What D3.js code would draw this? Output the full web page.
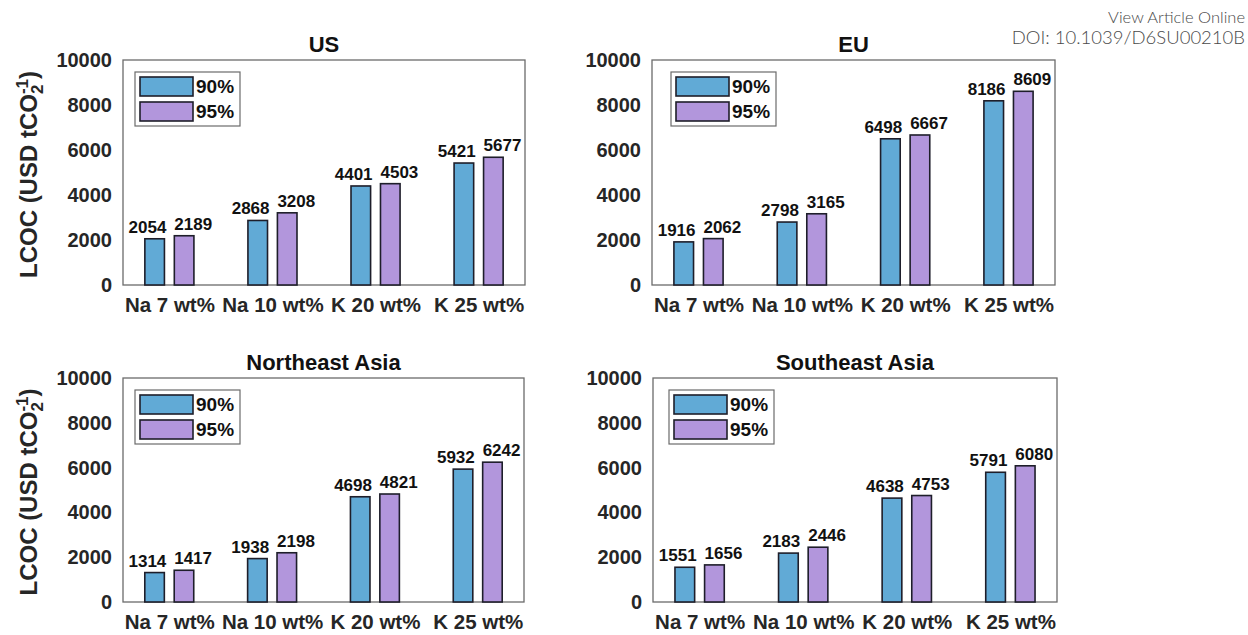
<!DOCTYPE html>
<html>
<head>
<meta charset="utf-8">
<script src="https://cdn.jsdelivr.net/npm/d3@7"></script>
<style>
  html, body { margin: 0; padding: 0; background: #fff; }
  svg { display: block; }
  text { font-family: "Liberation Sans", Arial, sans-serif; }
</style>
</head>
<body>
<svg id="chart" width="1248" height="635"></svg>
<script>
// LCOC by sorbent loading and capture rate, four regions
const categories = ["Na 7 wt%", "Na 10 wt%", "K 20 wt%", "K 25 wt%"];
const seriesNames = ["90%", "95%"];
const regionNames = ["US", "EU", "Northeast Asia", "Southeast Asia"];

const us90  = [2054, 2868, 4401, 5421];
const us95  = [2189, 3208, 4503, 5677];
const eu90  = [1916, 2798, 6498, 8186];
const eu95  = [2062, 3165, 6667, 8609];
const nea90 = [1314, 1938, 4698, 5932];
const nea95 = [1417, 2198, 4821, 6242];
const sea90 = [1551, 2183, 4638, 5791];
const sea95 = [1656, 2446, 4753, 6080];

const yTicks = [0, 2000, 4000, 6000, 8000, 10000];
const yMax = 10000;

const regionValues = [[us90, us95], [eu90, eu95], [nea90, nea95], [sea90, sea95]];

// panel frames (plot area) and legend offsets
const frames = [
  { x: 123, y: 60,  w: 402, h: 225, lx: 12 },
  { x: 652, y: 60,  w: 403, h: 225, lx: 19 },
  { x: 123, y: 378, w: 401, h: 224, lx: 12 },
  { x: 653, y: 378, w: 404, h: 224, lx: 16 }
];

const colors = ["#61aad6", "#b296dc"];
const barStroke = "#1e1e2a";
const frameStroke = "#6b6b6b";
const offsets = [-0.143, 0.143];
const barW = 0.19;

const svg = d3.select("#chart");

// header note
svg.append("text")
  .attr("x", 1245).attr("y", 23)
  .attr("text-anchor", "end")
  .style("font-family", "Lato, 'Open Sans', sans-serif")
  .style("font-weight", 300)
  .style("font-size", "16.5px")
  .attr("fill", "#4a4a4a")
  .text("View Article Online");
svg.append("text")
  .attr("x", 1245).attr("y", 44)
  .attr("text-anchor", "end")
  .style("font-family", "Lato, 'Open Sans', sans-serif")
  .style("font-weight", 300)
  .style("font-size", "18.5px")
  .attr("fill", "#4a4a4a")
  .text("DOI: 10.1039/D6SU00210B");

regionNames.forEach((name, i) => {
  const f = frames[i];
  const g = svg.append("g").attr("transform", `translate(${f.x},${f.y})`);

  const x = d3.scaleLinear().domain([0.55, 4.45]).range([0, f.w]);
  const y = d3.scaleLinear().domain([0, yMax]).range([f.h, 0]);

  // frame
  g.append("rect")
    .attr("x", 0).attr("y", 0).attr("width", f.w).attr("height", f.h)
    .attr("fill", "none").attr("stroke", frameStroke).attr("stroke-width", 1.3);

  // y axis labels
  const yAxis = d3.axisLeft(y).tickValues(yTicks).tickSize(0).tickPadding(11).tickFormat(d3.format("d"));
  const ya = g.append("g").call(yAxis);
  ya.select(".domain").remove();
  ya.selectAll("text")
    .style("font-family", "'Liberation Sans', Arial, sans-serif")
    .style("font-size", "20px").style("font-weight", "bold")
    .attr("fill", "#262626");

  // x category labels
  const xa = g.append("g").attr("transform", `translate(0,${f.h})`)
    .call(d3.axisBottom(x).tickValues([1, 2, 3, 4]).tickSize(0).tickPadding(12)
      .tickFormat(d => categories[d - 1]));
  xa.select(".domain").remove();
  xa.selectAll("text")
    .style("font-family", "'Liberation Sans', Arial, sans-serif")
    .style("font-size", "20.5px").style("font-weight", "bold")
    .attr("fill", "#262626");

  // title
  svg.append("text")
    .attr("x", f.x + f.w / 2).attr("y", f.y - 8)
    .attr("text-anchor", "middle")
    .style("font-size", "22px").style("font-weight", "bold")
    .attr("fill", "#111")
    .text(name);

  // bars and value labels
  regionValues[i].forEach((vals, s) => {
    g.selectAll(null).data(vals).enter().append("rect")
      .attr("x", (d, k) => x(k + 1 + offsets[s] - barW / 2))
      .attr("y", d => y(d))
      .attr("width", x(barW) - x(0))
      .attr("height", d => f.h - y(d))
      .attr("fill", colors[s])
      .attr("stroke", barStroke).attr("stroke-width", 1.6);

    g.selectAll(null).data(vals).enter().append("text")
      .attr("x", (d, k) => s === 0 ? x(k + 1 + offsets[s] + barW / 2) + 2 : x(k + 1 + offsets[s] - barW / 2))
      .attr("y", d => y(d) - 6)
      .attr("text-anchor", s === 0 ? "end" : "start")
      .style("font-size", "17px").style("font-weight", "bold")
      .attr("fill", "#111")
      .text(d => d);
  });

  // legend
  const lg = g.append("g").attr("transform", `translate(${f.lx},12)`);
  lg.append("rect").attr("x", 0).attr("y", 0).attr("width", 105).attr("height", 54)
    .attr("fill", "#fff").attr("stroke", frameStroke).attr("stroke-width", 1.2);
  seriesNames.forEach((sn, s) => {
    lg.append("rect").attr("x", 5).attr("y", 5 + s * 25).attr("width", 53).attr("height", 19)
      .attr("fill", colors[s]).attr("stroke", barStroke).attr("stroke-width", 1.6);
    lg.append("text").attr("x", 61).attr("y", 21 + s * 25)
      .style("font-size", "19px").style("font-weight", "bold")
      .attr("fill", "#111").text(sn);
  });
});

// y axis titles, one per row
[frames[0], frames[2]].forEach(f => {
  const cy = f.y + f.h / 2 + 2;
  const t = svg.append("text")
    .attr("transform", `translate(37,${cy}) rotate(-90)`)
    .attr("text-anchor", "middle")
    .style("font-size", "24px").style("font-weight", "bold")
    .attr("fill", "#262626");
  t.append("tspan").text("LCOC (USD tCO");
  t.append("tspan").attr("dy", 6).style("font-size", "17px").text("2");
  t.append("tspan").attr("dx", -9.5).attr("dy", -15).style("font-size", "17px").text("-1");
  t.append("tspan").attr("dy", 9).text(")");
});
</script>
</body>
</html>
